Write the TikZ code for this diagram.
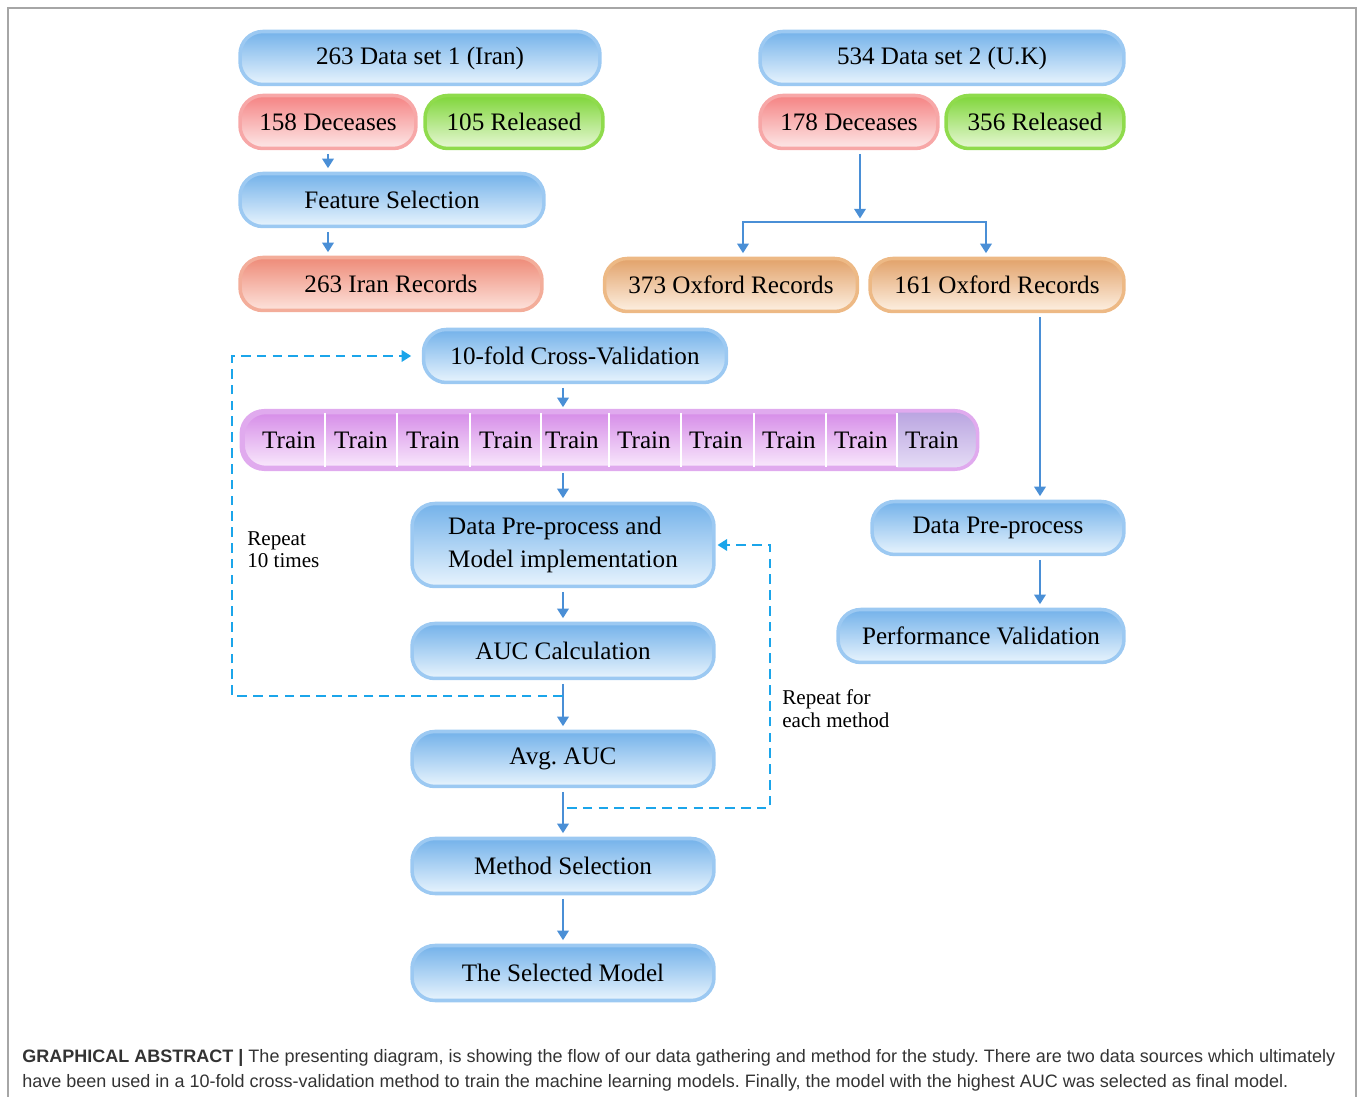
\documentclass[tikz,border=0pt]{standalone}
\usepackage{fontspec}
\setmainfont{Liberation Serif}
\newfontfamily\capfont{Liberation Sans}
\usetikzlibrary{arrows.meta}
\frenchspacing

\definecolor{blueedge}{HTML}{9CC9F2}
\definecolor{bluetop}{HTML}{74B2EA}
\definecolor{bluebot}{HTML}{E8F4FD}
\definecolor{rededge}{HTML}{F7A7A7}
\definecolor{redtop}{HTML}{F58383}
\definecolor{redbot}{HTML}{FDE8E8}
\definecolor{greenedge}{HTML}{8FDB4C}
\definecolor{greentop}{HTML}{7FD63A}
\definecolor{greenbot}{HTML}{E8F8D6}
\definecolor{salmonedge}{HTML}{F3AD9A}
\definecolor{salmontop}{HTML}{EE8B78}
\definecolor{salmonbot}{HTML}{FDE3DC}
\definecolor{orangeedge}{HTML}{EDB985}
\definecolor{orangetop}{HTML}{E2A26A}
\definecolor{orangebot}{HTML}{FDF0E2}
\definecolor{purpleedge}{HTML}{E0AAEE}
\definecolor{purpletop}{HTML}{D68DE8}
\definecolor{purplebot}{HTML}{F9E9FC}
\definecolor{lilactop}{HTML}{B199DC}
\definecolor{lilacbot}{HTML}{EEE8FA}
\definecolor{arrowblue}{HTML}{4A8FD6}
\definecolor{loopblue}{HTML}{1BA5EA}
\definecolor{captext}{HTML}{333333}

\begin{document}
\begin{tikzpicture}[x=0.02cm,y=-0.02cm,
    pill/.style={rounded corners=13pt,line width=2pt,inner sep=0pt,
      minimum height=1.06cm,font=\fontsize{14.3}{18.7}\selectfont},
    bluepill/.style={pill,draw=blueedge,top color=bluetop,bottom color=bluebot},
    redpill/.style={pill,draw=rededge,top color=redtop,bottom color=redbot},
    greenpill/.style={pill,draw=greenedge,top color=greentop,bottom color=greenbot},
    salmonpill/.style={pill,draw=salmonedge,top color=salmontop,bottom color=salmonbot},
    orangepill/.style={pill,draw=orangeedge,top color=orangetop,bottom color=orangebot},
    arr/.style={-{Triangle[width=6.5pt,length=5.5pt]},line width=1.5pt,draw=arrowblue,
      shorten <=2pt,shorten >=2pt},
    loop/.style={-{Triangle[width=6.5pt,length=5.5pt]},line width=1.4pt,draw=loopblue,
      dash pattern=on 5.5pt off 3.5pt}]

  \useasboundingbox (0,0) rectangle (1360,1097);
  \draw[gray!70,line width=0.6pt] (8,1097) |- (1356,8) -- (1356,1097);

  % data set 1 (left column)
  \node[bluepill,minimum width=7.2cm]   (1) at (420,58)  {263 Data set 1 (Iran)};
  \node[redpill,minimum width=3.52cm]   (2) at (328,122) {158 Deceases};
  \node[greenpill,minimum width=3.56cm] (3) at (514,122) {105 Released};
  \node[bluepill,minimum width=6.08cm]  (4) at (392,200) {Feature Selection};
  \node[salmonpill,minimum width=6.04cm] (5) at (391,284) {263 Iran Records};

  % data set 2 (right column)
  \node[bluepill,minimum width=7.28cm]   (6)  at (942,58)  {534 Data set 2 (U.K)};
  \node[redpill,minimum width=3.56cm]    (7)  at (849,122) {178 Deceases};
  \node[greenpill,minimum width=3.56cm]  (8)  at (1035,122) {356 Released};
  \node[orangepill,minimum width=5.06cm] (9)  at (731,285) {373 Oxford Records};
  \node[orangepill,minimum width=5.08cm] (10) at (997,285) {161 Oxford Records};
  \node[bluepill,minimum width=5.04cm]   (11) at (998,528) {Data Pre-process};
  \node[bluepill,minimum width=5.72cm]   (12) at (981,636) {Performance Validation};

  % cross-validation column
  \node[bluepill,minimum width=6.06cm] (13) at (575,356) {10-fold Cross-Validation};
  \node[pill,draw=purpleedge,top color=purpletop,bottom color=purplebot,
    minimum width=14.66cm,minimum height=1.1cm] (14) at (609.5,440) {};
  \begin{scope}
    \clip[rounded corners=13pt] (14.south west) rectangle (14.north east);
    \shade[top color=lilactop,bottom color=lilacbot] (897,400) rectangle (990,480);
  \end{scope}
  \draw[purpleedge,line width=2pt,rounded corners=13pt] (14.south west) rectangle (14.north east);
  \foreach \x in {325,397,470,541,609,681,754,826,897}
    \draw[white,line width=1.6pt] (\x,413) -- (\x,467);

  \begin{scope}[every node/.style={font=\fontsize{14.3}{18.7}\selectfont}]
    \node (t1)  at (289,440) {Train};
    \node (t2)  at (361,440) {Train};
    \node (t3)  at (433,440) {Train};
    \node (t4)  at (506,440) {Train};
    \node (t5)  at (572,440) {Train};
    \node (t6)  at (644,440) {Train};
    \node (t7)  at (716,440) {Train};
    \node (t8)  at (789,440) {Train};
    \node (t9)  at (861,440) {Train};
    \node (t10) at (932,440) {Train};
  \end{scope}

  \node[bluepill,minimum width=6.04cm,minimum height=1.66cm,align=left] (15) at (563,545)
    {Data Pre-process and\\Model implementation};
  \node[bluepill,minimum width=6.04cm,minimum height=1.1cm] (16) at (563,651) {AUC Calculation};
  \node[bluepill,minimum width=6.04cm,minimum height=1.1cm] (17) at (563,759) {Avg.\ AUC};
  \node[bluepill,minimum width=6.04cm,minimum height=1.1cm] (18) at (563,866) {Method Selection};
  \node[bluepill,minimum width=6.04cm,minimum height=1.1cm] (19) at (563,973) {The Selected Model};

  % loop labels
  \begin{scope}[every node/.style={anchor=north west,align=left,inner sep=0pt,
      font=\fontsize{12}{13}\selectfont}]
    \node (r1) at (247,531) {Repeat\\10 times};
    \node (r2) at (782,689) {Repeat for\\each method};
  \end{scope}

  % arrows
  \draw[arr] (2.south) -- (2.south |- 4.north);
  \draw[arr] (4.south -| 2.south) -- (5.north -| 2.south);
  \coordinate (b) at (860,222);
  \draw[arr] (7.south -| b) -- (b);
  \draw[arr,shorten <=0pt] (b) -| ([xshift=0.24cm]9.north);
  \draw[arr,shorten <=0pt] (b) -| ([xshift=-0.22cm]10.north);
  \draw[arr] ([xshift=0.86cm]10.south) -- ([xshift=0.86cm]10.south |- 11.north);
  \draw[arr] ([xshift=0.84cm]11.south) -- ([xshift=0.84cm]11.south |- 12.north);
  \draw[arr] (13.south -| 15.north) -- (14.north -| 15.north);
  \draw[arr] (14.south -| 15.north) -- (15.north);
  \draw[arr] (15.south) -- (16.north);
  \draw[arr] (16.south) -- (17.north);
  \draw[arr] (17.south) -- (18.north);
  \draw[arr] (18.south) -- (19.north);

  % repeat loops
  \coordinate (l1) at (563,696);
  \coordinate (l2) at (232,696);
  \draw[loop,shorten >=6pt] (l1) -- (l2) |- (13.west);
  \coordinate (m1) at (567,808);
  \coordinate (m2) at (770,808);
  \draw[loop,shorten >=1pt] (m1) -- (m2) |- (15.east);

  % caption
  \node[anchor=north west,align=left,inner sep=0pt,text=captext,
    font=\capfont\fontsize{10.25}{14.2}\selectfont] (cap) at (22,1049)
    {\textbf{GRAPHICAL ABSTRACT |} The presenting diagram, is showing the flow of our data gathering and method for the study. There are two data sources which ultimately\\
     have been used in a 10-fold cross-validation method to train the machine learning models. Finally, the model with the highest AUC was selected as final model.};

\end{tikzpicture}
\end{document}
